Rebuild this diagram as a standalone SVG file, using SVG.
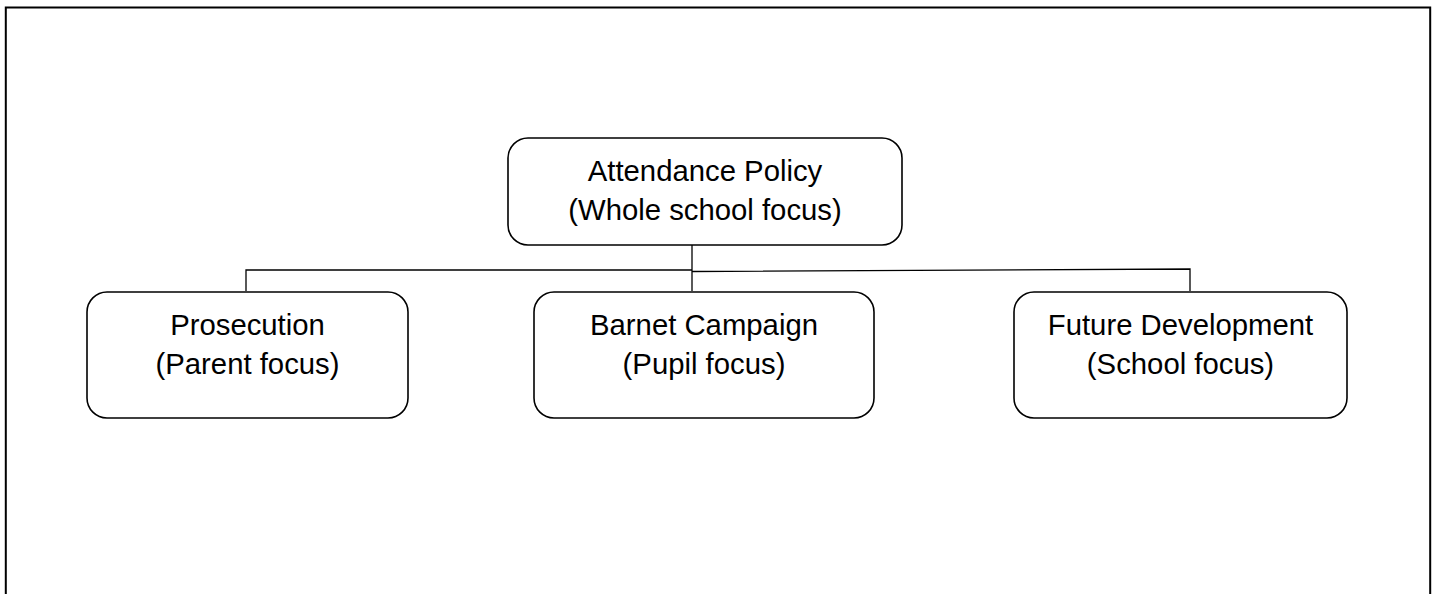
<svg xmlns="http://www.w3.org/2000/svg" width="1437" height="594" viewBox="0 0 1437 594">
<style>
.box{fill:#fff;stroke:#000;stroke-width:1.6}
.lbl{font-family:"Liberation Sans",Arial,sans-serif;font-size:29.3px;fill:#000;text-anchor:middle}
.conn{stroke:#000;stroke-width:1.3;fill:none}
</style>
<rect width="1437" height="594" fill="#fff"/>
<path d="M5.8,594 V7.5 H1430.2 V594" fill="none" stroke="#000" stroke-width="2"/>
<g id="connectors">
<path class="conn" d="M692,245 V291"/>
<path class="conn" d="M246,291 V270 H692"/>
<path class="conn" d="M692,271.5 L1190,269 V291"/>
</g>
<g id="attendance">
<rect class="box" x="508" y="138" width="394" height="107" rx="20"/>
<text class="lbl" x="705" y="180.5">Attendance Policy</text>
<text class="lbl" x="705" y="220">(Whole school focus)</text>
</g>
<g id="prosecution">
<rect class="box" x="87" y="292" width="321" height="126" rx="20"/>
<text class="lbl" x="247.5" y="334.5">Prosecution</text>
<text class="lbl" x="247.5" y="374">(Parent focus)</text>
</g>
<g id="barnet">
<rect class="box" x="534" y="292" width="340" height="126" rx="20"/>
<text class="lbl" x="704" y="334.5">Barnet Campaign</text>
<text class="lbl" x="704" y="374">(Pupil focus)</text>
</g>
<g id="future">
<rect class="box" x="1014" y="292" width="333" height="126" rx="20"/>
<text class="lbl" x="1180.5" y="334.5">Future Development</text>
<text class="lbl" x="1180.5" y="374">(School focus)</text>
</g>
</svg>
